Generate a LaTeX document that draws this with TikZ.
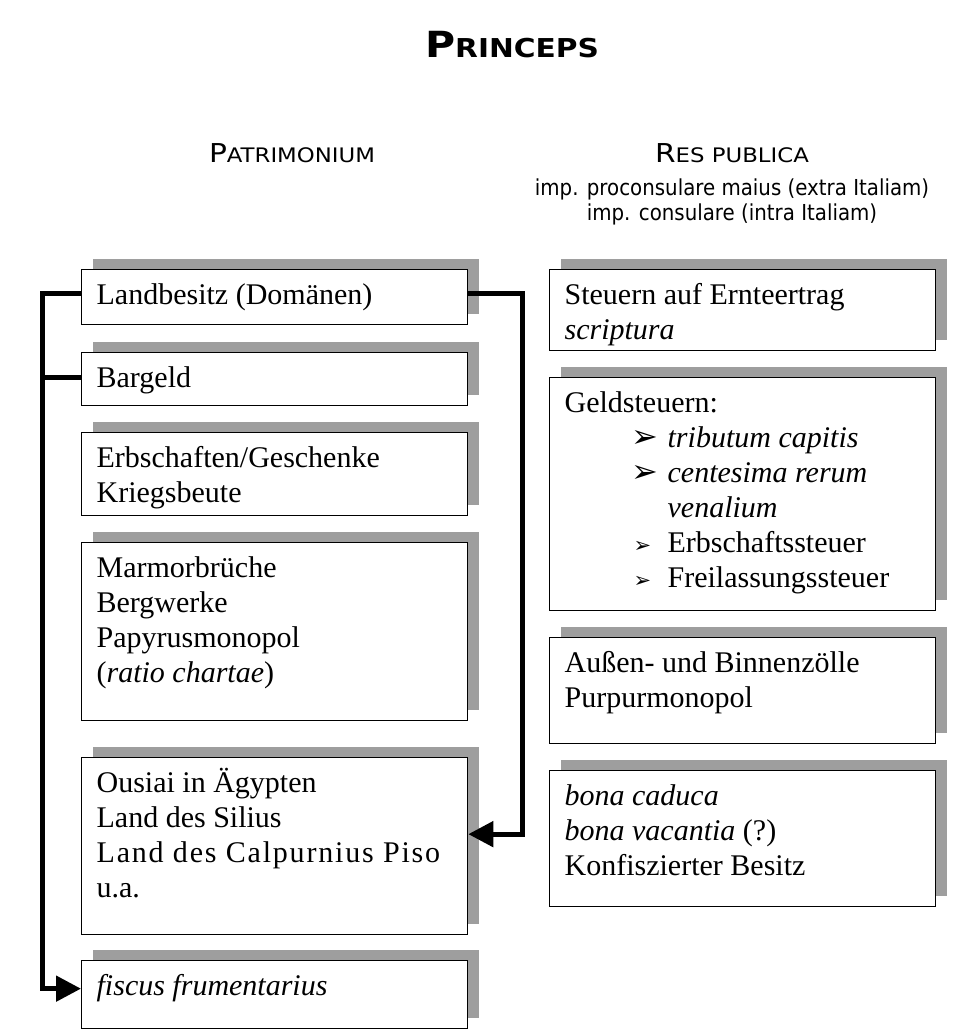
\documentclass[tikz,border=0pt]{standalone}
\usepackage{fontspec}
\setmainfont{Liberation Serif}
\newfontfamily\kopffont[FakeStretch=1.14]{DejaVu Sans}
\newfontfamily\impfont[FakeStretch=0.9]{DejaVu Sans}
\newfontfamily\symbolfont{DejaVu Sans}
\usetikzlibrary{arrows.meta,positioning,shadows}

% box content: fixed height, text from the top
\newcommand{\inhalt}[2]{\parbox[t][#1pt][t]{356pt}{\rule{0pt}{35pt}#2}}
\newcommand{\grosspunkt}{\makebox[34pt][l]{\hspace*{-2pt}\symbolfont\fontsize{32}{32}\selectfont ➢}}
\newcommand{\kleinpunkt}{\makebox[34pt][l]{\symbolfont\fontsize{21}{21}\selectfont ➢}}

\begin{document}
\begin{tikzpicture}[x=1pt, y=-1pt,
  kasten/.style={draw, line width=1.3pt, fill=white, anchor=north west,
    inner xsep=15pt, inner ysep=0pt, font=\fontsize{30}{35}\selectfont,
    drop shadow={shadow xshift=11pt, shadow yshift=11pt, fill=black!38, opacity=1}},
  kopf/.style={anchor=base, font=\kopffont},
  linie/.style={line width=5pt},
  pfeil/.style={linie, -{Triangle[length=25pt,width=25pt]}}]
  \useasboundingbox (0,0) rectangle (966,1030);

  % Titles
  \node[kopf] (titel) at (512,58) {\bfseries\fontsize{36}{40}\selectfont P\fontsize{26}{30}\selectfont RINCEPS};
  \node[kopf] (patr) at (292,162) {\fontsize{26}{30}\selectfont P\fontsize{20}{24}\selectfont ATRIMONIUM};
  \node[kopf] (respub) at (732,162) {\fontsize{26}{30}\selectfont R\fontsize{20}{24}\selectfont ES PUBLICA};
  \node[kopf, font=\impfont\fontsize{22}{24}\selectfont] (imp1) at (732,195) {imp. proconsulare maius (extra Italiam)};
  \node[kopf, font=\impfont\fontsize{22}{24}\selectfont] (imp2) at (732,220) {imp. consulare (intra Italiam)};

  % Patrimonium
  \node[kasten] (land) at (81,269) {\inhalt{55}{Landbesitz (Domänen)}};
  \node[kasten] (bargeld) at (81,352) {\inhalt{53}{Bargeld}};
  \node[kasten] (erbe) at (81,432) {\inhalt{83}{Erbschaften/Geschenke\\Kriegsbeute}};
  \node[kasten] (marmor) at (81,542) {\inhalt{178}{Marmorbrüche\\Bergwerke\\Papyrusmonopol\\(\textit{ratio chartae})}};
  \node[kasten] (ousiai) at (81,757) {\inhalt{177}{Ousiai in Ägypten\\Land des Silius\\{\addfontfeature{LetterSpace=6}Land des Calpurnius Piso}\\u.a.}};
  \node[kasten] (fiscus) at (81,960) {\inhalt{68}{\textit{fiscus frumentarius}}};

  % Res publica
  \node[kasten] (steuern) at (549,269) {\inhalt{81}{Steuern auf Ernteertrag\\\textit{scriptura}}};
  \node[kasten] (geld) at (549,377) {\inhalt{233}{Geldsteuern:\\
    \hspace*{69pt}\grosspunkt\textit{tributum capitis}\\
    \hspace*{69pt}\grosspunkt\textit{centesima rerum}\\
    \hspace*{103pt}\textit{venalium}\\
    \hspace*{69pt}\kleinpunkt Erbschaftssteuer\\
    \hspace*{69pt}\kleinpunkt Freilassungssteuer}};
  \node[kasten] (zoelle) at (549,637) {\inhalt{106}{Außen- und Binnenzölle\\Purpurmonopol}};
  \node[kasten] (bona) at (549,770) {\inhalt{136}{\textit{bona caduca}\\\textit{bona vacantia} (?)\\Konfiszierter Besitz}};

  % Connectors
  \coordinate (stamm) at (42,640);
  \coordinate (rechts) at (522,560);
  \draw[pfeil] ([yshift=4pt]land.west) -| (stamm) |- ([yshift=6pt]fiscus.west);
  \draw[linie] ([yshift=2pt]bargeld.west) -- ([yshift=2pt]bargeld.west -| stamm);
  \draw[pfeil] ([yshift=4pt]land.east) -| (rechts) |- ([yshift=12pt]ousiai.east);
\end{tikzpicture}
\end{document}
